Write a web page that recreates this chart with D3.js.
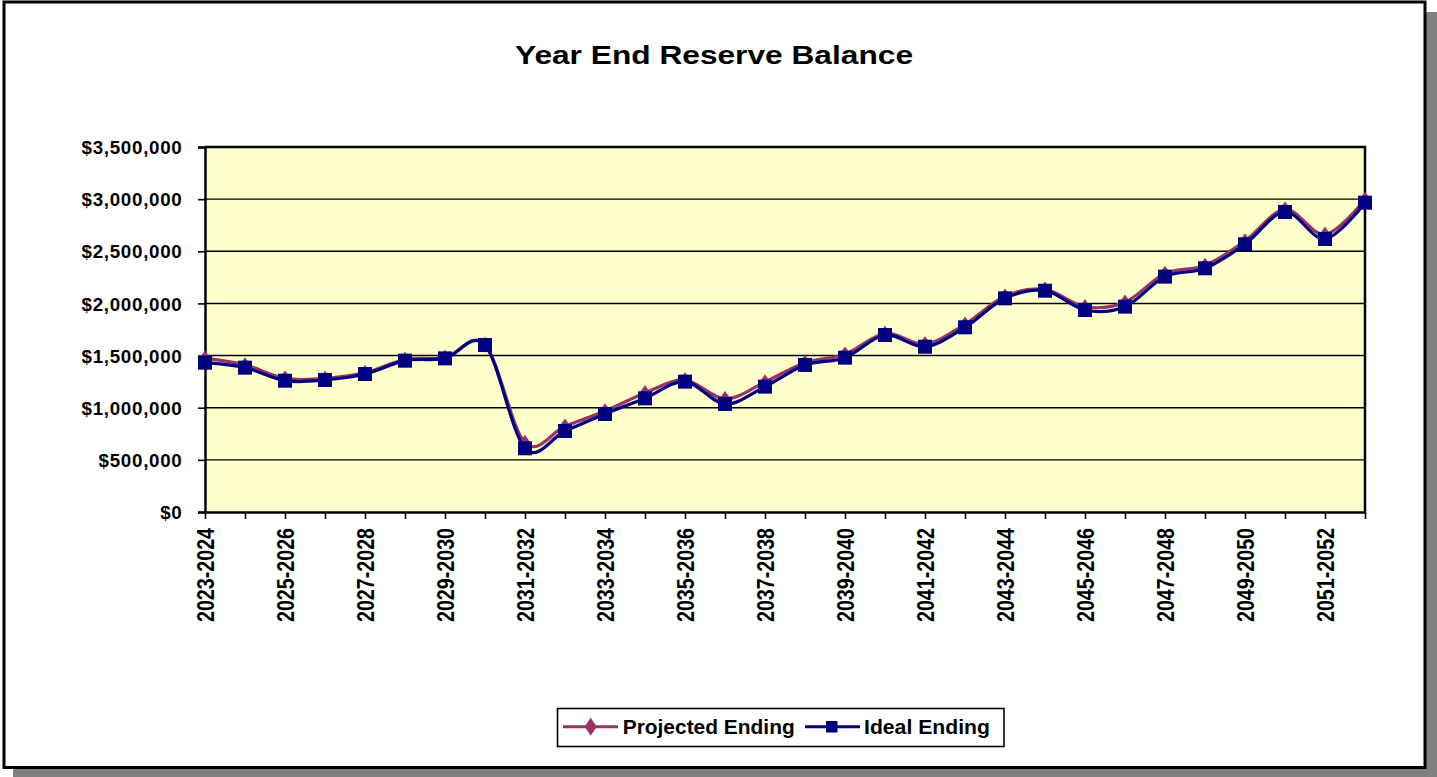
<!DOCTYPE html>
<html>
<head>
<meta charset="utf-8">
<script src="https://cdn.jsdelivr.net/npm/d3@7"></script>
<style>
  html, body { margin: 0; padding: 0; background: #ffffff; }
  svg { display: block; font-family: "Liberation Sans", Arial, sans-serif; }
</style>
</head>
<body>
<svg id="chart" width="1437" height="777"></svg>
<script>
// ---- data ----
const categories = [
  "2023-2024","2024-2025","2025-2026","2026-2027","2027-2028","2028-2029",
  "2029-2030","2030-2031","2031-2032","2032-2033","2033-2034","2034-2035",
  "2035-2036","2036-2037","2037-2038","2038-2039","2039-2040","2040-2041",
  "2041-2042","2042-2043","2043-2044","2044-2045","2045-2046","2046-2047",
  "2047-2048","2048-2049","2049-2050","2050-2051","2051-2052","2052-2053"
];
const projectedEnding = [
  1475000, 1410000, 1282000, 1280000, 1336000, 1462000, 1482000, 1605000,
  665000, 822000, 968000, 1142000, 1266000, 1085000, 1247000, 1432000,
  1512000, 1712000, 1612000, 1800000, 2068000, 2135000, 1968000, 2012000,
  2287000, 2364000, 2598000, 2902000, 2662000, 2996000
];
const idealEnding = [
  1432000, 1384000, 1259000, 1266000, 1323000, 1451000, 1473000, 1601000,
  611000, 777000, 940000, 1090000, 1250000, 1036000, 1202000, 1410000,
  1480000, 1697000, 1585000, 1771000, 2049000, 2122000, 1937000, 1969000,
  2257000, 2337000, 2567000, 2877000, 2618000, 2966000
];
const yTicks = [0, 500000, 1000000, 1500000, 2000000, 2500000, 3000000, 3500000];
const xLabelEvery = 2;
const titleText = "Year End Reserve Balance";
const seriesNames = ["Projected Ending", "Ideal Ending"];

// ---- layout ----
const svg = d3.select("#chart");
const W = 1437, H = 777;
const plot = { left: 205, right: 1365, top: 147, bottom: 512 };

// shadow + frame
svg.append("rect").attr("x", 13).attr("y", 12).attr("width", W - 13).attr("height", H - 12)
  .attr("fill", "#808080");
svg.append("rect").attr("x", 4).attr("y", 2).attr("width", 1421).attr("height", 765.5)
  .attr("fill", "#ffffff").attr("stroke", "#000000").attr("stroke-width", 3);

// title
svg.append("text").attr("x", 515).attr("y", 64)
  .attr("font-size", 26.5).attr("font-weight", "bold").attr("fill", "#000")
  .attr("textLength", 398).attr("lengthAdjust", "spacingAndGlyphs")
  .text(titleText);

// scales
const x = d3.scalePoint().domain(categories).range([plot.left, plot.right]).padding(0);
const y = d3.scaleLinear().domain([0, 3500000]).range([plot.bottom, plot.top]);

// plot area
svg.append("rect").attr("x", plot.left).attr("y", plot.top)
  .attr("width", plot.right - plot.left).attr("height", plot.bottom - plot.top)
  .attr("fill", "#FFFFCC");

// gridlines
svg.append("g").selectAll("line").data(yTicks.filter(d => d > 0 && d < 3500000)).join("line")
  .attr("x1", plot.left).attr("x2", plot.right)
  .attr("y1", d => y(d)).attr("y2", d => y(d))
  .attr("stroke", "#000").attr("stroke-width", 1.4);

// plot border (top, right)
svg.append("path")
  .attr("d", `M${plot.left},${plot.top}H${plot.right}V${plot.bottom}`)
  .attr("fill", "none").attr("stroke", "#000").attr("stroke-width", 2.5);

// y axis
const fmt = d => "$" + d3.format(",")(d);
const yAxis = d3.axisLeft(y).tickValues(yTicks).tickSize(7).tickPadding(16).tickFormat(fmt);
const gy = svg.append("g").attr("transform", `translate(${plot.left},0)`).call(yAxis);
gy.select(".domain").attr("stroke", "#000").attr("stroke-width", 2.5);
gy.selectAll(".tick line").attr("stroke", "#000").attr("stroke-width", 1.6);
gy.selectAll(".tick text")
  .attr("font-family", "'Liberation Sans', Arial, sans-serif")
  .attr("font-size", 18.8).attr("font-weight", "bold").attr("fill", "#000")
  .attr("letter-spacing", 0.7)
  .attr("x", -22.5).attr("dy", null).attr("y", 6.7);

// x axis
const xAxis = d3.axisBottom(x).tickSize(7).tickSizeOuter(0)
  .tickFormat((d, i) => (i % xLabelEvery === 0 ? d : ""));
const gx = svg.append("g").attr("transform", `translate(0,${plot.bottom})`).call(xAxis);
gx.select(".domain").attr("stroke", "#000").attr("stroke-width", 2.5);
gx.selectAll(".tick line").attr("stroke", "#000").attr("stroke-width", 1.6);
gx.selectAll(".tick text")
  .attr("font-family", "'Liberation Sans', Arial, sans-serif")
  .attr("font-size", 23).attr("font-weight", "bold").attr("fill", "#000")
  .attr("text-anchor", "end")
  .attr("dy", null).attr("y", null)
  .attr("transform", "translate(8.3,16) rotate(-90)")
  .each(function() {
    const t = d3.select(this);
    if (t.text()) t.attr("textLength", 94).attr("lengthAdjust", "spacingAndGlyphs");
  });

// lines (uniform Catmull-Rom, like spreadsheet smoothed lines)
const line = d3.line().x((d, i) => x(categories[i])).y(d => y(d)).curve(d3.curveCatmullRom.alpha(0));

const projColor = "#993366", idealColor = "#000080";

svg.append("path").datum(projectedEnding).attr("d", line)
  .attr("fill", "none").attr("stroke", projColor).attr("stroke-width", 3.2);
const diamond = d3.symbol().type(d3.symbolDiamond).size(70);
svg.append("g").selectAll("path").data(projectedEnding).join("path")
  .attr("d", diamond)
  .attr("transform", (d, i) => `translate(${x(categories[i])},${y(d)}) scale(1.25,1)`)
  .attr("fill", projColor);

svg.append("path").datum(idealEnding).attr("d", line)
  .attr("fill", "none").attr("stroke", idealColor).attr("stroke-width", 3.2);
svg.append("g").selectAll("rect").data(idealEnding).join("rect")
  .attr("x", (d, i) => x(categories[i]) - 7).attr("y", d => y(d) - 7)
  .attr("width", 14).attr("height", 14)
  .attr("fill", idealColor);

// legend
const lg = svg.append("g");
lg.append("rect").attr("x", 557.5).attr("y", 708.5).attr("width", 446.5).attr("height", 38)
  .attr("fill", "#fff").attr("stroke", "#000").attr("stroke-width", 1.6);
lg.append("line").attr("x1", 563).attr("x2", 618).attr("y1", 726.7).attr("y2", 726.7)
  .attr("stroke", projColor).attr("stroke-width", 3);
lg.append("path").attr("d", d3.symbol().type(d3.symbolDiamond).size(90))
  .attr("transform", "translate(590.7,726.7) scale(1.2,1)").attr("fill", projColor);
lg.append("text").attr("x", 622.7).attr("y", 733.5)
  .attr("font-size", 21).attr("font-weight", "bold").attr("fill", "#000")
  .attr("textLength", 172).attr("lengthAdjust", "spacingAndGlyphs")
  .text(seriesNames[0]);
lg.append("line").attr("x1", 805).attr("x2", 860).attr("y1", 726.7).attr("y2", 726.7)
  .attr("stroke", idealColor).attr("stroke-width", 3);
lg.append("rect").attr("x", 826).attr("y", 721).attr("width", 11.5).attr("height", 11.5)
  .attr("fill", idealColor);
lg.append("text").attr("x", 864).attr("y", 733.5)
  .attr("font-size", 21).attr("font-weight", "bold").attr("fill", "#000")
  .attr("textLength", 126).attr("lengthAdjust", "spacingAndGlyphs")
  .text(seriesNames[1]);
</script>
</body>
</html>
